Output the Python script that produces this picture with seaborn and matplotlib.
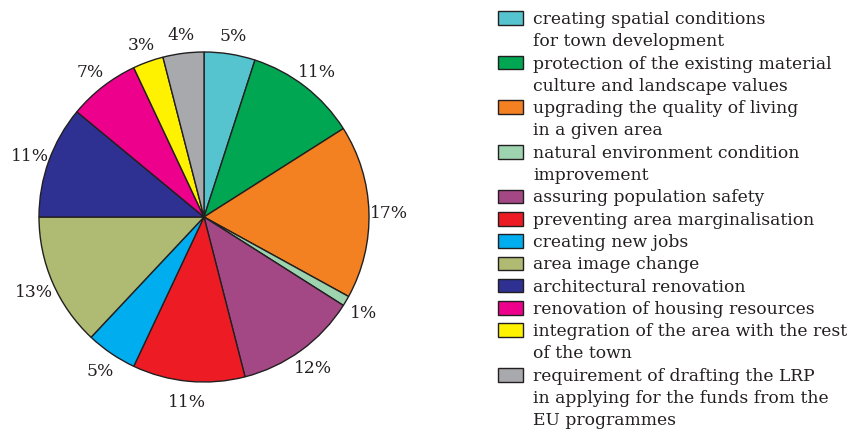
import matplotlib
matplotlib.use("Agg")
import matplotlib.pyplot as plt
from matplotlib.patches import Patch
import seaborn as sns

# --- data ---
categories = [
    "creating spatial conditions\nfor town development",
    "protection of the existing material\nculture and landscape values",
    "upgrading the quality of living\nin a given area",
    "natural environment condition\nimprovement",
    "assuring population safety",
    "preventing area marginalisation",
    "creating new jobs",
    "area image change",
    "architectural renovation",
    "renovation of housing resources",
    "integration of the area with the rest\nof the town",
    "requirement of drafting the LRP\nin applying for the funds from the\nEU programmes",
]
shares = [5, 11, 17, 1, 12, 11, 5, 13, 11, 7, 3, 4]
pct_labels = [f"{v}%" for v in shares]
colors = ["#56C4CE", "#00A651", "#F38121", "#9DD3AF", "#A34785", "#ED1C24",
          "#00AEEF", "#AFBA72", "#2E3192", "#EC008C", "#FFF200", "#A7A9AC"]

sns.set_style("white")
plt.rcParams["font.family"] = ["DejaVu Serif"]
ink = "#231F20"

fig = plt.figure(figsize=(8.48, 4.33), dpi=100)
ax = fig.add_axes([39 / 848, 51 / 433, 330 / 848, 330 / 433])

wedges, texts = ax.pie(
    shares, labels=pct_labels, colors=colors, startangle=90, counterclock=False,
    labeldistance=1.12, radius=1,
    wedgeprops=dict(edgecolor=ink, linewidth=1.0),
    textprops=dict(fontsize=12.3, color=ink),
)
for t in texts:
    t.set_ha("center")
    t.set_va("center_baseline")
ax.set_xlim(-1, 1)
ax.set_ylim(-1, 1)
ax.set_aspect("equal")
ax.axis("off")

# legend: one entry per text line so the swatch sits on the first line
handles, labels = [], []
for w, cat in zip(wedges, categories):
    for i, line in enumerate(cat.split("\n")):
        if i == 0:
            handles.append(Patch(facecolor=w.get_facecolor(), edgecolor=ink, linewidth=1.0))
        else:
            handles.append(Patch(facecolor="none", edgecolor="none"))
        labels.append(line)

leg = fig.legend(
    handles, labels, loc="upper left", bbox_to_anchor=(498 / 848, 1 - 11 / 433),
    frameon=False, fontsize=12.3, handlelength=1.45, handleheight=0.85,
    handletextpad=0.6, labelspacing=0.31, borderaxespad=0, borderpad=0,
)
for t in leg.get_texts():
    t.set_color(ink)

fig.savefig("out.png", dpi=100)
